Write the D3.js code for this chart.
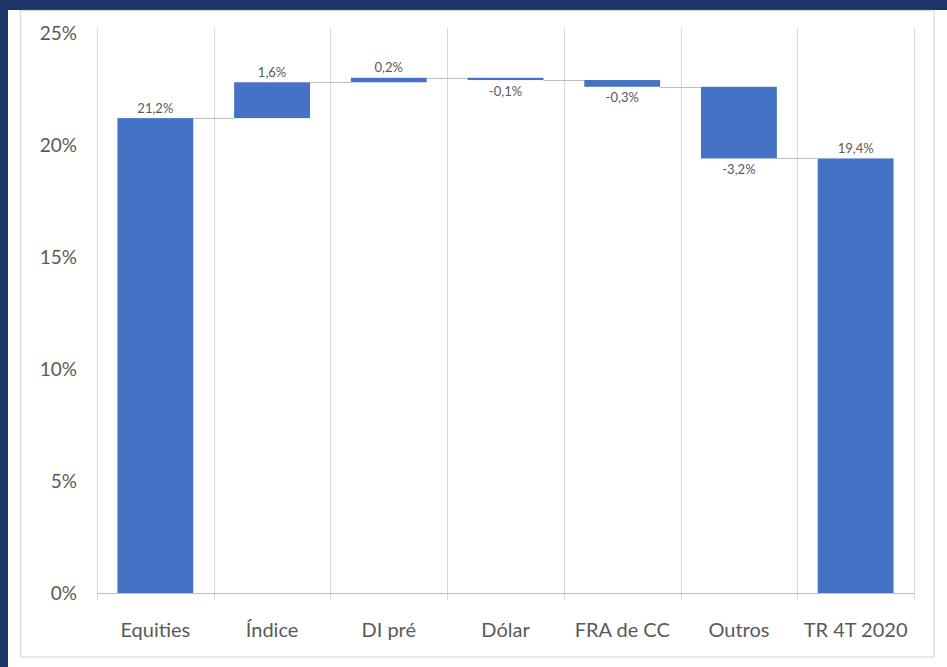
<!DOCTYPE html>
<html>
<head>
<meta charset="utf-8">
<script src="https://cdn.jsdelivr.net/npm/d3@7"></script>
<style>
  html, body { margin: 0; padding: 0; background: #ffffff; }
  svg { display: block; }
</style>
</head>
<body>
<svg id="chart" width="947" height="667"></svg>
<script>
// Waterfall of return contributions
const categories = ["Equities", "Índice", "DI pré", "Dólar", "FRA de CC", "Outros", "TR 4T 2020"];
const deltas = [21.2, 1.6, 0.2, -0.1, -0.3, -3.2, 19.4];
const isTotal = [true, false, false, false, false, false, true];
const yTicks = [0, 5, 10, 15, 20, 25];

const W = 947, H = 667;
const FONT = "Lato, 'Open Sans', sans-serif";
const svg = d3.select("#chart");

// frame: navy strips on top and left, white panel with a light border
svg.append("rect").attr("x", 0).attr("y", 0).attr("width", W).attr("height", H).attr("fill", "#ffffff");
svg.append("rect").attr("x", 0).attr("y", 0).attr("width", W).attr("height", 10).attr("fill", "#1c3567");
svg.append("rect").attr("x", 0).attr("y", 0).attr("width", 8).attr("height", H).attr("fill", "#1c3567");
svg.append("rect").attr("x", 20.5).attr("y", 10.5).attr("width", 913.5).attr("height", 646.5)
  .attr("fill", "none").attr("stroke", "#d9d9d9").attr("stroke-width", 1.2);

const plotLeft = 97, plotRight = 914;
const x = d3.scaleBand().domain(categories).range([plotLeft, plotRight]).paddingInner(0.35).paddingOuter(0.175);
const y = d3.scaleLinear().domain([0, 25]).range([593, 33]);

// build running levels
let level = 0;
const steps = categories.map((c, i) => {
  let start, end;
  if (isTotal[i]) { start = 0; end = deltas[i]; level = deltas[i]; }
  else { start = level; end = level + deltas[i]; level = end; }
  return { cat: c, start, end, value: deltas[i] };
});

// vertical separators between categories
const seps = [plotLeft].concat(categories.slice(1).map(c => x(c) - x.step() * x.paddingInner() / 2)).concat([plotRight]);
svg.append("g").selectAll("line").data(seps).join("line")
  .attr("x1", d => Math.round(d) + 0.5).attr("x2", d => Math.round(d) + 0.5)
  .attr("y1", 28).attr("y2", 600)
  .attr("stroke", "#d9d9d9").attr("stroke-width", 1);

// y tick labels
svg.append("g").selectAll("text").data(yTicks).join("text")
  .attr("x", 77).attr("y", d => y(d)).attr("dy", "0.35em")
  .attr("text-anchor", "end")
  .attr("font-family", FONT)
  .attr("font-size", 19).attr("fill", "#595959")
  .text(d => d + "%");

// connectors
svg.append("g").selectAll("line").data(steps.slice(0, -1)).join("line")
  .attr("x1", d => x(d.cat) + x.bandwidth())
  .attr("x2", (d, i) => x(categories[i + 1]))
  .attr("y1", d => Math.round(y(d.end)) + 0.5)
  .attr("y2", d => Math.round(y(d.end)) + 0.5)
  .attr("stroke", "#bfbfbf").attr("stroke-width", 1);

// bars
svg.append("g").selectAll("rect").data(steps).join("rect")
  .attr("x", d => x(d.cat))
  .attr("width", x.bandwidth())
  .attr("y", d => y(Math.max(d.start, d.end)))
  .attr("height", d => Math.max(2, Math.abs(y(d.start) - y(d.end))))
  .attr("fill", "#4472c4");

// zero axis line
svg.append("line").attr("x1", plotLeft).attr("x2", plotRight)
  .attr("y1", 593.5).attr("y2", 593.5)
  .attr("stroke", "#a9d18e").attr("stroke-width", 1.2);

// value labels
const fmt = v => (v < 0 ? "-" : "") + Math.abs(v).toFixed(1).replace(".", ",") + "%";
svg.append("g").selectAll("text").data(steps).join("text")
  .attr("x", d => x(d.cat) + x.bandwidth() / 2)
  .attr("y", d => d.value >= 0 ? y(Math.max(d.start, d.end)) - 10 : y(Math.min(d.start, d.end)) + 11)
  .attr("dy", "0.35em")
  .attr("text-anchor", "middle")
  .attr("font-family", FONT)
  .attr("font-size", 13).attr("fill", "#595959")
  .text(d => fmt(d.value));

// category labels
svg.append("g").selectAll("text").data(categories).join("text")
  .attr("x", d => x(d) + x.bandwidth() / 2)
  .attr("y", 630).attr("dy", "0.35em")
  .attr("text-anchor", "middle")
  .attr("font-family", FONT)
  .attr("font-size", 20).attr("fill", "#595959")
  .text(d => d);
</script>
</body>
</html>
